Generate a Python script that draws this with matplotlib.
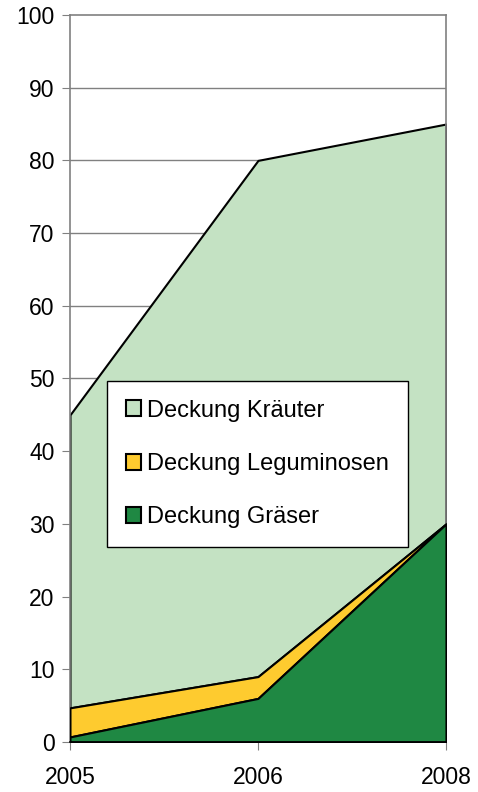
import numpy as np
import matplotlib.pyplot as plt

plt.rcParams['font.family'] = ['Liberation Sans', 'DejaVu Sans']

# Daten
jahre = ["2005", "2006", "2008"]
graeser = [0.7, 6.0, 30.0]
leguminosen = [4.0, 3.0, 0.0]
kraeuter = [40.3, 71.0, 55.0]

farben = {"Kräuter": "#C4E2C3", "Leguminosen": "#FECB2F", "Gräser": "#1F8843"}

x = np.arange(len(jahre))
g = np.array(graeser)
l = g + np.array(leguminosen)
k = l + np.array(kraeuter)

fig = plt.figure(figsize=(4.78, 7.92), dpi=100)
ax = fig.add_axes([0.1464, 0.0631, 0.7866, 0.9180])

grau = "#808080"
for yy in range(10, 100, 10):
    ax.axhline(yy, color=grau, lw=1.0, zorder=0)

h1 = ax.fill_between(x, l, k, facecolor=farben["Kräuter"], edgecolor="black", lw=1.5, zorder=2)
h2 = ax.fill_between(x, g, l, facecolor=farben["Leguminosen"], edgecolor="black", lw=1.5, zorder=3)
h3 = ax.fill_between(x, 0, g, facecolor=farben["Gräser"], edgecolor="black", lw=1.5, zorder=4)

ax.set_xlim(x[0], x[-1])
ax.set_ylim(0, 100)
ax.set_yticks(range(0, 101, 10))
ax.set_xticks(x)
ax.set_xticklabels(jahre)

for s in ax.spines.values():
    s.set_color(grau)
    s.set_linewidth(1.2)
ax.spines["bottom"].set_color("black")
ax.spines["bottom"].set_zorder(6)

ax.tick_params(axis="y", direction="out", length=6, color=grau, labelsize=16.5, pad=5)
ax.tick_params(axis="x", direction="out", length=6, color=grau, labelsize=16.5, pad=11)

leg = ax.legend([h1, h2, h3],
                ["Deckung Kräuter", "Deckung Leguminosen", "Deckung Gräser"],
                loc="upper left", bbox_to_anchor=(0.098, 0.497),
                fontsize=17, frameon=True, fancybox=False, framealpha=1,
                edgecolor="black", handlelength=0.65, handleheight=0.65,
                handletextpad=0.25, labelspacing=1.33, borderpad=0.8,
                borderaxespad=0)
leg.get_frame().set_linewidth(1.0)
leg.set_zorder(10)

fig.savefig("out.png", dpi=100)
